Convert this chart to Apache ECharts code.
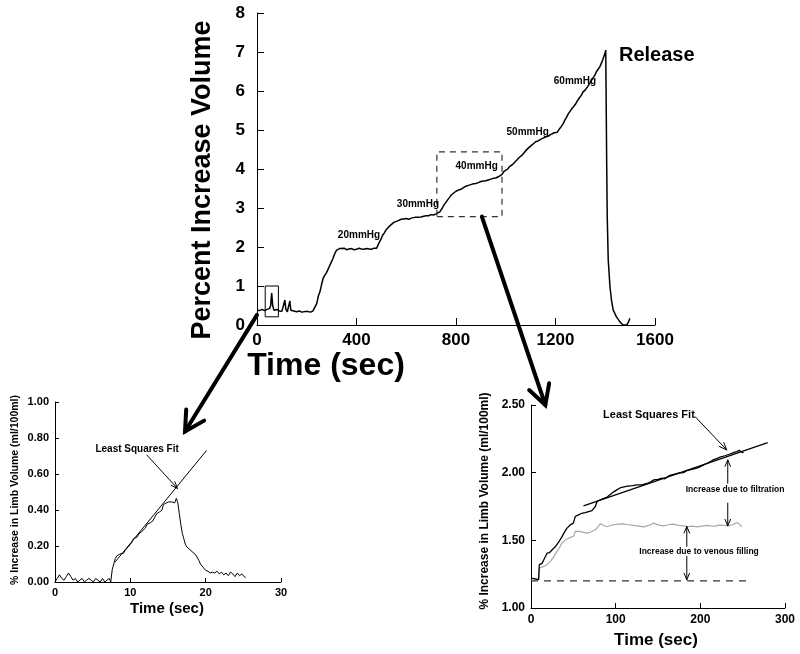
<!DOCTYPE html>
<html><head><meta charset="utf-8">
<script src="https://cdn.jsdelivr.net/npm/echarts@6/dist/echarts.min.js"></script>
<style>html,body{margin:0;padding:0;background:#fff}#c{width:800px;height:654px}</style>
</head><body><div id="c"></div>
<script>
// ---------- DATA ----------
// Main chart: time (sec) vs percent increase volume
const mainCurve = [
 [0,0.38],[10,0.37],[20,0.40],[30,0.37],[40,0.40],[50,0.42],[55,0.5],[59,0.82],[63,0.5],[68,0.38],[75,0.36],[80,0.40],[90,0.36],[100,0.35],[108,0.40],[112,0.64],[116,0.40],[122,0.34],[128,0.38],[132,0.62],[136,0.38],[142,0.33],[160,0.34],[170,0.36],[180,0.33],[200,0.35],[215,0.33],[225,0.36],[233,0.34],
 [240,0.55],[247,0.75],[253,0.85],[260,1.05],[266,1.2],[273,1.28],[280,1.35],[287,1.45],[293,1.5],[299,1.62],[305,1.7],[312,1.82],[320,1.92],[325,1.93],[332,1.96],[340,1.95],[350,1.97],[360,1.93],[370,1.95],[380,1.96],[390,1.93],[400,1.94],[410,1.97],[420,1.95],[430,1.94],[440,1.96],[450,1.95],[460,1.94],[470,1.97],[481,1.97],
 [490,2.1],[497,2.18],[505,2.3],[512,2.36],[520,2.45],[528,2.5],[535,2.55],[543,2.6],[550,2.63],[558,2.64],[565,2.67],[573,2.7],[580,2.71],[590,2.72],[600,2.73],[610,2.71],[620,2.74],[628,2.75],[635,2.76],[640,2.79],[645,2.76],[660,2.77],[670,2.79],[680,2.80],[690,2.8],[700,2.83],[710,2.82],[720,2.85],[728,2.86],[735,2.90],
 [745,3.0],[752,3.08],[760,3.15],[768,3.22],[775,3.28],[782,3.34],[790,3.38],[800,3.43],[810,3.46],[820,3.48],[830,3.52],[840,3.56],[850,3.58],[860,3.6],[870,3.62],[880,3.63],[890,3.65],[900,3.68],[910,3.69],[920,3.7],[930,3.72],[940,3.74],[950,3.76],[960,3.77],[970,3.80],[978,3.82],[985,3.86],
 [992,3.93],[1000,3.97],[1008,4.0],[1015,4.06],[1020,4.08],[1028,4.12],[1035,4.16],[1040,4.2],[1048,4.23],[1055,4.3],[1060,4.33],[1068,4.37],[1075,4.42],[1080,4.47],[1088,4.5],[1095,4.56],[1100,4.6],[1108,4.63],[1115,4.68],[1120,4.7],[1130,4.72],[1140,4.76],[1150,4.79],[1160,4.82],[1170,4.84],[1180,4.88],[1188,4.9],[1195,4.93],[1200,4.97],[1207,4.94],[1215,5.02],
 [1222,5.08],[1230,5.15],[1238,5.26],[1245,5.33],[1250,5.4],[1258,5.45],[1265,5.54],[1270,5.58],[1280,5.66],[1290,5.77],[1298,5.84],[1305,5.9],[1310,5.97],[1320,6.03],[1330,6.12],[1340,6.22],[1350,6.33],[1358,6.4],[1365,6.5],[1370,6.55],[1378,6.62],[1385,6.72],[1390,6.8],[1395,6.9],[1399,6.96],[1402,7.05],
 [1404,7.0],[1406,4.0],[1408,2.78],[1412,1.67],[1419,0.98],[1425,0.64],[1432,0.38],[1445,0.21],[1459,0.08],[1472,0.0],[1486,0.0],[1492,0.06],[1499,0.17]
];
const smallBoxX = [33, 86];        // solid box (sec)
const smallBoxY = [0.21, 1.0];
const zoomBoxX = [723, 985];       // dashed box (sec)
const zoomBoxY = [2.78, 4.44];
const pressureLabels = [["20mmHg",410,2.31],["30mmHg",647,3.10],["40mmHg",883,4.08],["50mmHg",1088,4.95],["60mmHg",1278,6.26]];
const releaseLabel = ["Release",1607,6.92];

// Bottom-left chart
const blCurve = [
 [0,0.0],[0.3,0.02],[0.6,0.04],[0.9,0.02],[1.2,0.01],[1.5,0.03],[1.8,0.05],[2.1,0.03],[2.4,0.01],[2.7,0.02],[3.0,0.0],[3.3,0.01],[3.6,0.02],[3.9,0.0],[4.2,0.01],[4.5,0.02],[4.8,0.01],[5.1,0.0],[5.4,0.02],[5.7,0.01],[6.0,0.0],[6.3,0.02],[6.6,0.0],[6.9,0.01],[7.2,0.02],
 [7.4,0.0],[7.6,0.07],[7.8,0.10],[8.0,0.13],[8.2,0.145],[8.4,0.15],[8.6,0.155],[8.8,0.15],[9.1,0.16],[9.3,0.175],[9.5,0.18],[9.8,0.2],[10.0,0.21],[10.2,0.22],[10.4,0.24],[10.6,0.24],[10.9,0.25],[11.1,0.265],[11.3,0.26],[11.5,0.28],[11.7,0.29],[12.0,0.3],[12.2,0.32],[12.4,0.33],[12.7,0.33],[13.0,0.34],[13.2,0.35],[13.5,0.38],[13.7,0.385],[13.9,0.39],[14.2,0.4],[14.4,0.43],[14.6,0.44],[14.8,0.44],[15.1,0.445],[15.3,0.44],[15.5,0.445],[15.7,0.45],[15.9,0.44],[16.1,0.465],[16.3,0.44],
 [16.5,0.38],[16.7,0.32],[16.9,0.27],[17.1,0.24],[17.3,0.21],[17.5,0.195],[17.7,0.19],[17.9,0.18],[18.1,0.175],[18.3,0.165],[18.5,0.16],[18.7,0.15],[18.9,0.14],[19.1,0.12],[19.3,0.1],[19.5,0.09],[19.7,0.08],[20.0,0.065],[20.3,0.06],[20.6,0.05],[20.9,0.055],[21.2,0.05],[21.5,0.06],[21.8,0.045],[22.1,0.055],[22.4,0.04],[22.7,0.05],[23.0,0.035],[23.3,0.055],[23.6,0.045],[23.9,0.03],[24.2,0.05],[24.5,0.035],[24.8,0.045],[25.1,0.03],[25.3,0.025]
];
const blFit = [[8.0,0.112],[20.1,0.73]];
const blFitArrow = [[12.2,0.705],[16.25,0.52]];
const blFitLabel = ["Least Squares Fit",10.9,0.74];

// Bottom-right chart
const brTotal = [
 [0,1.22],[5,1.215],[9,1.21],[9.8,1.32],[13,1.33],[15,1.355],[19,1.405],[22,1.41],[25,1.43],[29,1.455],[33,1.49],[36,1.52],[39,1.555],[42.5,1.59],[46,1.612],[50,1.627],[51,1.64],[52.3,1.676],[56,1.688],[60,1.70],[64,1.705],[68,1.713],[72,1.72],[74,1.73],[76,1.75],[78,1.787],[82,1.80],[86,1.81],[90,1.82],[94,1.84],[98,1.86],[102,1.875],[106,1.89],[110,1.895],[114,1.90],[120,1.905],[125,1.91],[131,1.91],[137,1.92],[142,1.935],[145,1.947],[150,1.95],[155,1.96],[158,1.955],[164,1.98],[170,1.99],[174,1.996],[180,2.0],[184,2.015],[190,2.025],[196,2.033],[200,2.045],[204,2.057],[210,2.075],[215,2.094],[220,2.105],[223,2.114],[229,2.125],[235,2.138],[240,2.15],[243,2.156],[246,2.165],[247,2.172],[249,2.15],[251,2.148]
];
const brVenous = [
 [0,1.216],[9,1.21],[9.8,1.295],[15,1.307],[19,1.32],[22.8,1.344],[26,1.37],[30.7,1.418],[34,1.45],[36.6,1.48],[40,1.5],[42.5,1.51],[46,1.52],[50.3,1.53],[52.3,1.566],[56,1.566],[60,1.562],[66,1.553],[70,1.56],[75.9,1.578],[79,1.6],[81.8,1.622],[86,1.61],[89.7,1.60],[94,1.61],[97.5,1.615],[103,1.62],[109,1.622],[115,1.615],[121,1.61],[127,1.605],[133,1.60],[139,1.61],[145,1.627],[151,1.612],[157,1.607],[162,1.615],[168,1.62],[174,1.61],[180,1.607],[186,1.602],[191,1.605],[196,1.60],[202,1.605],[207,1.61],[212,1.607],[218,1.605],[222,1.612],[227,1.61],[233,1.608],[238,1.615],[243,1.632],[246,1.62],[249,1.60]
];
const brFit = [[62,1.755],[279.6,2.222]];
const brBaseline = [[0,1.2],[257,1.2]];
const brFitArrow = [[193.8,2.414],[231.2,2.168]];
const brFitLabel = ["Least Squares Fit",139.3,2.428];
const filtrationArrows = [[[232.4,1.922],[232.4,2.094]],[[232.4,1.775],[232.4,1.607]]];
const filtrationLabel = ["Increase due to filtration",241,1.873];
const venousArrows = [[[184,1.455],[184,1.602]],[[184,1.381],[184,1.209]]];
const venousLabel = ["Increase due to venous filling",198.5,1.413];

// Connector arrows: [grid, point] start -> [grid, point] tip
const connector1 = [[0,[0,0.26]],[1,[17.26,0.836]]];
const connector2 = [[0,[904,2.78]],[2,[16.9,2.50]]];

// ---------- CHART ----------
const F = '"Liberation Sans", Arial, Helvetica, sans-serif';
const chart = echarts.init(document.getElementById('c'));

function rectPath(xs, ys){ return [[xs[0],ys[0]],[xs[1],ys[0]],[xs[1],ys[1]],[xs[0],ys[1]],[xs[0],ys[0]]]; }
function xAx(gi, min, max, interval, fs, margin, tick){
  return {gridIndex:gi, type:'value', min:min, max:max, interval:interval,
    axisLine:{show:true, onZero:false, lineStyle:{color:'#000', width:1}},
    axisTick:{show:true, inside:true, length:tick, lineStyle:{color:'#000', width:1}},
    splitLine:{show:false},
    axisLabel:{color:'#000', fontWeight:'bold', fontSize:fs, fontFamily:F, margin:margin, formatter: v => String(v)}};
}
function yAx(gi, min, max, interval, fs, margin, tick, dec){
  const a = xAx(gi, min, max, interval, fs, margin, tick);
  if (dec) a.axisLabel.formatter = v => v.toFixed(dec);
  return a;
}
function lineSeries(gi, data, color, width, type){
  return {type:'line', xAxisIndex:gi, yAxisIndex:gi, data:data, showSymbol:false, symbol:'none', silent:true,
    lineStyle:{color:color, width:width, type:type||'solid'}, z:3};
}

chart.setOption({
  animation:false,
  backgroundColor:'#fff',
  grid:[
    {left:257, top:13, width:398, height:312},
    {left:55, top:402, width:226, height:180},
    {left:531, top:405, width:254, height:203}
  ],
  xAxis:[ xAx(0,0,1600,400,17,7,7), xAx(1,0,30,10,11,5,4), xAx(2,0,300,100,12,6,5) ],
  yAxis:[ yAx(0,0,8,1,17,12,7), yAx(1,0,1,0.2,11,6,4,2), yAx(2,1,2.5,0.5,12,6,5,2) ],
  series:[
    lineSeries(0, mainCurve, '#000', 1.5),
    lineSeries(0, rectPath(smallBoxX, smallBoxY), '#000', 1),
    lineSeries(0, rectPath(zoomBoxX, zoomBoxY), '#333', 1.2, [6,5]),
    lineSeries(1, blCurve, '#000', 1),
    lineSeries(1, blFit, '#000', 1),
    lineSeries(2, brBaseline, '#333', 1.3, [7,6]),
    lineSeries(2, brVenous, '#a8a8a8', 1.2),
    lineSeries(2, brTotal, '#000', 1.3),
    lineSeries(2, brFit, '#000', 1.2)
  ]
});

// ---------- ANNOTATIONS (positioned through the axes) ----------
function px(gi, p){ return chart.convertToPixel({gridIndex:gi}, p); }
function head(tip, from, len, ang){
  const a = Math.atan2(from[1]-tip[1], from[0]-tip[0]);
  return [[tip[0]+len*Math.cos(a+ang), tip[1]+len*Math.sin(a+ang)], tip, [tip[0]+len*Math.cos(a-ang), tip[1]+len*Math.sin(a-ang)]];
}
function arrow(p1, p2, lw, hl, ang){
  return [
    {type:'polyline', shape:{points:[p1,p2]}, style:{stroke:'#000', lineWidth:lw, lineCap:'round', fill:null}, z:10},
    {type:'polyline', shape:{points:head(p2,p1,hl,ang)}, style:{stroke:'#000', lineWidth:lw, lineCap:'round', lineJoin:'miter', fill:null}, z:10}
  ];
}
function text(str, p, fs, opts){
  return Object.assign({type:'text', x:p[0], y:p[1], z:11,
    style:{text:str, fill:'#000', font:'bold '+fs+'px '+F, textAlign:'center', textVerticalAlign:'middle'}}, opts||{});
}
const g = [];
// connectors
[connector1, connector2].forEach(c => {
  g.push(...arrow(px(c[0][0], c[0][1]), px(c[1][0], c[1][1]), 4, 22, 0.5));
});
// main labels
pressureLabels.forEach(l => g.push(text(l[0], px(0,[l[1],l[2]]), 10)));
g.push(text(releaseLabel[0], px(0,[releaseLabel[1],releaseLabel[2]]), 20));
// bottom-left
g.push(...arrow(px(1,blFitArrow[0]), px(1,blFitArrow[1]), 1, 7, 0.38));
g.push(text(blFitLabel[0], px(1,[blFitLabel[1],blFitLabel[2]]), 10));
// bottom-right
g.push(...arrow(px(2,brFitArrow[0]), px(2,brFitArrow[1]), 1, 8, 0.38));
g.push(text(brFitLabel[0], px(2,[brFitLabel[1],brFitLabel[2]]), 11));
filtrationArrows.concat(venousArrows).forEach(a => g.push(...arrow(px(2,a[0]), px(2,a[1]), 1, 7, 0.4)));
g.push(text(filtrationLabel[0], px(2,[filtrationLabel[1],filtrationLabel[2]]), 8.5));
g.push(text(venousLabel[0], px(2,[venousLabel[1],venousLabel[2]]), 8.5));
// axis titles
g.push(text('Percent Increase Volume', [203,180], 27, {rotation:Math.PI/2}));
g.push(text('Time (sec)', [326,366], 32));
g.push(text('% Increase in Limb Volume (ml/100ml)', [15,490], 10.5, {rotation:Math.PI/2}));
g.push(text('Time (sec)', [167,609], 15));
g.push(text('% Increase in Limb Volume (ml/100ml)', [485,501], 12, {rotation:Math.PI/2}));
g.push(text('Time (sec)', [656,640], 17));
chart.setOption({graphic:{elements:g}});
</script>
</body></html>
